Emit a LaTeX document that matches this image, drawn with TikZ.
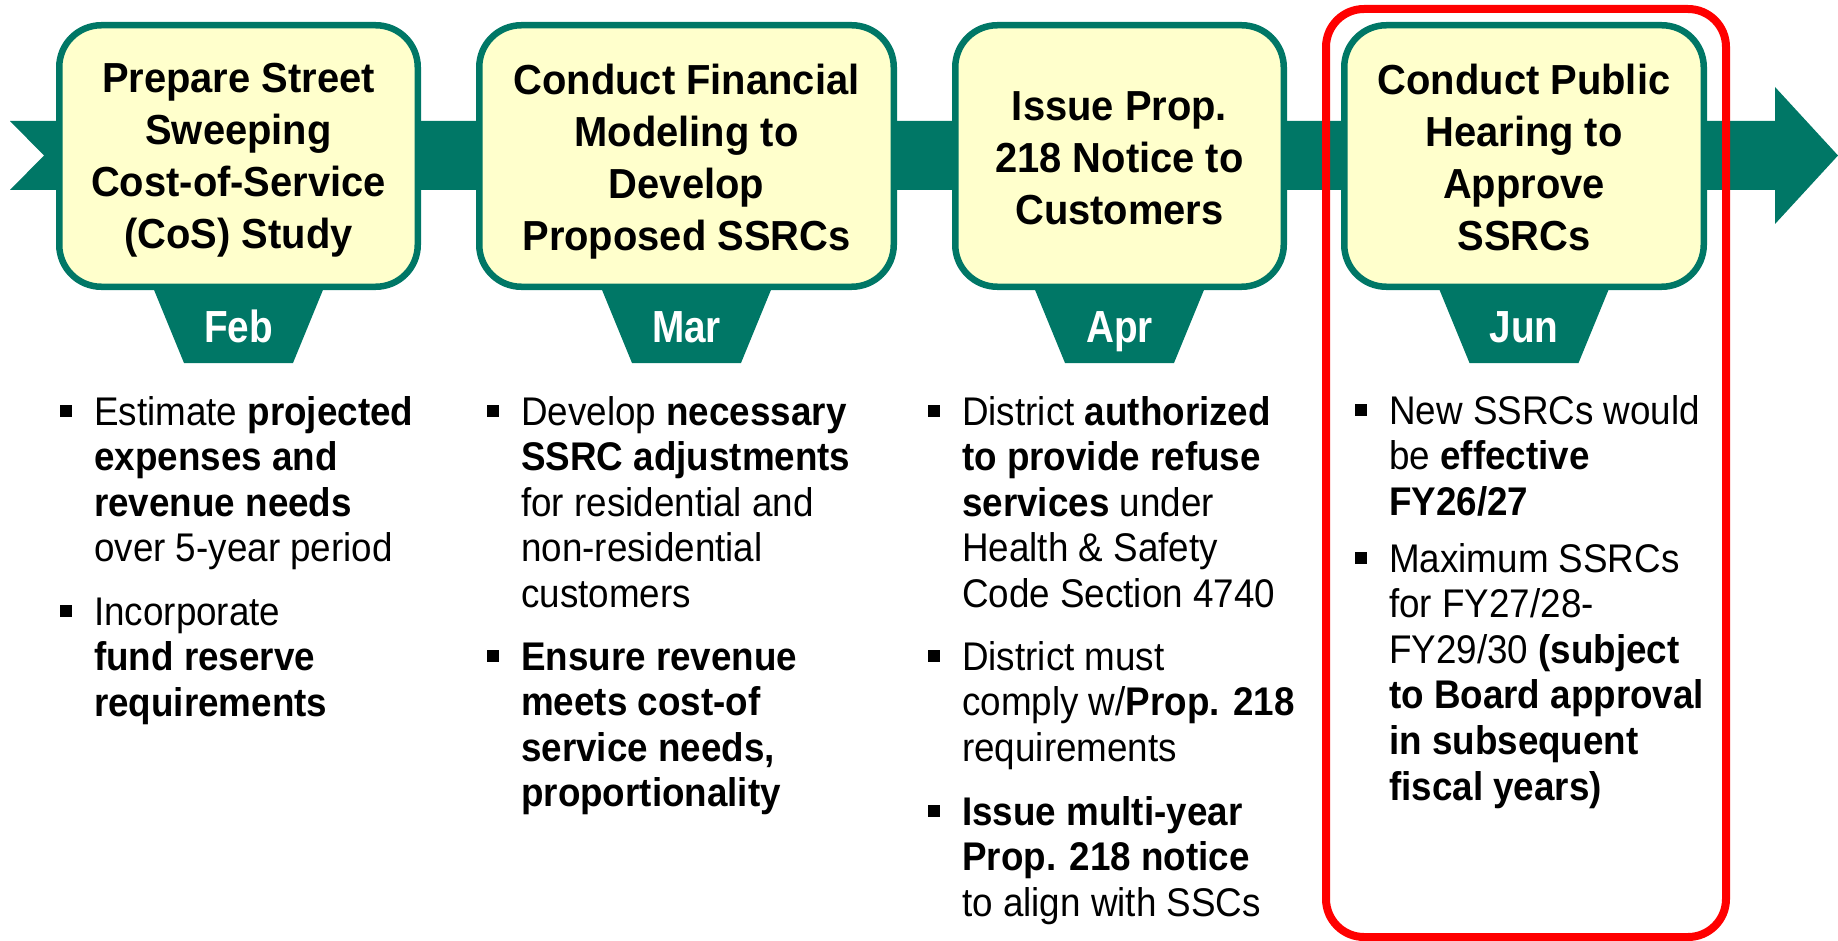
\documentclass[tikz,border=0pt]{standalone}
\usepackage{fontspec}
\setmainfont{Liberation Sans}
\newfontfamily\titlefont[FakeStretch=0.95]{Liberation Sans}
\newfontfamily\bodyfont[FakeStretch=0.92]{Liberation Sans}
\newfontfamily\monthfont[FakeStretch=0.86]{Liberation Sans}
\definecolor{tealband}{RGB}{0,119,102}
\definecolor{boxfill}{RGB}{255,255,204}
\newcommand{\bodypar}[1]{\parbox[t]{480pt}{\raggedright\bodyfont\fontsize{40}{45.6}\selectfont #1}}
\newcommand{\titlepar}[2]{\parbox[t]{#1}{\centering\titlefont\bfseries\fontsize{42}{51.7}\selectfont #2}}
\begin{document}
\begin{tikzpicture}[x=1pt,y=-1pt,
  stepbox/.style={draw=tealband, fill=boxfill, line width=6.5pt, rounded corners=42pt, minimum height=261.5pt, inner sep=0pt},
  monthlabel/.style={anchor=base, inner sep=0pt, text=white, font=\monthfont\bfseries\fontsize{45}{50}\selectfont},
  titlelabel/.style={anchor=base, inner sep=0pt},
  bodylabel/.style={anchor=base west, inner sep=0pt},
  bulletsq/.style={fill=black, minimum size=12pt, inner sep=0pt},
  redframe/.style={draw=red, line width=8pt, rounded corners=38pt, minimum width=400pt, minimum height=928pt, inner sep=0pt}]

\useasboundingbox (0,0) rectangle (1838,941);

% timeline band with arrow head
\fill[tealband] (10,121) -- (1775,121) -- (1775,87) -- (1838,155.5) -- (1775,224)
  -- (1775,190) -- (10,190) -- (44,155.5) -- cycle;

% month tabs
\foreach \cx in {238.5,686.5,1119.5,1524}{
  \fill[tealband] ({\cx-86.5},285) -- ({\cx+86.5},285) -- ({\cx+54.5},363) -- ({\cx-54.5},363) -- cycle;
}

% step boxes
\node[stepbox, minimum width=358.5pt] (boxA) at (238.5,156) {};
\node[stepbox, minimum width=414.5pt] (boxB) at (686.5,156) {};
\node[stepbox, minimum width=328.5pt] (boxC) at (1119.5,156) {};
\node[stepbox, minimum width=359.5pt] (boxD) at (1524,156) {};

% titles
\node[titlelabel] (titleA) at (238.5,93) {\titlepar{360pt}{Prepare Street\\Sweeping\\Cost-of-Service\\(CoS) Study}};
\node[titlelabel] (titleB) at (686.5,95) {\titlepar{414pt}{Conduct Financial\\Modeling to\\Develop\\Proposed SSRCs}};
\node[titlelabel] (titleC) at (1119.5,121) {\titlepar{330pt}{Issue Prop.\\218 Notice to\\Customers}};
\node[titlelabel] (titleD) at (1524,95) {\titlepar{360pt}{Conduct Public\\Hearing to\\Approve\\SSRCs}};

% months
\node[monthlabel] (monA) at (238.5,342) {Feb};
\node[monthlabel] (monB) at (686.5,342) {Mar};
\node[monthlabel] (monC) at (1119.5,342) {Apr};
\node[monthlabel] (monD) at (1524,342) {Jun};

% column 1
\node[bulletsq] (sqA1) at (65.5,411) {};
\node[bodylabel] (txtA1) at (94,425) {\bodypar{Estimate \textbf{projected}\\\textbf{expenses and}\\\textbf{revenue needs}\\over 5-year period}};
\node[bulletsq] (sqA2) at (65.5,611) {};
\node[bodylabel] (txtA2) at (94,625) {\bodypar{Incorporate\\\textbf{fund reserve}\\\textbf{requirements}}};

% column 2
\node[bulletsq] (sqB1) at (492.5,411) {};
\node[bodylabel] (txtB1) at (521,425) {\bodypar{Develop \textbf{necessary}\\\textbf{SSRC adjustments}\\for residential and\\non-residential\\customers}};
\node[bulletsq] (sqB2) at (492.5,656) {};
\node[bodylabel] (txtB2) at (521,670) {\bodypar{\textbf{Ensure revenue}\\\textbf{meets cost-of}\\\textbf{service needs,}\\\textbf{proportionality}}};

% column 3
\node[bulletsq] (sqC1) at (934,411) {};
\node[bodylabel] (txtC1) at (962,425) {\bodypar{District \textbf{authorized}\\\textbf{to provide refuse}\\\textbf{services} under\\Health \& Safety\\Code Section 4740}};
\node[bulletsq] (sqC2) at (934,656) {};
\node[bodylabel] (txtC2) at (962,670) {\bodypar{District must\\comply w/\textbf{Prop. 218}\\requirements}};
\node[bulletsq] (sqC3) at (934,811) {};
\node[bodylabel] (txtC3) at (962,825) {\bodypar{\textbf{Issue multi-year}\\\textbf{Prop. 218 notice}\\to align with SSCs}};

% column 4
\node[bulletsq] (sqD1) at (1361,410) {};
\node[bodylabel] (txtD1) at (1389,424) {\bodypar{New SSRCs would\\be \textbf{effective}\\\textbf{FY26/27}}};
\node[bulletsq] (sqD2) at (1361,558) {};
\node[bodylabel] (txtD2) at (1389,572) {\bodypar{Maximum SSRCs\\for FY27/28-\\FY29/30 \textbf{(subject}\\\textbf{to Board approval}\\\textbf{in subsequent}\\\textbf{fiscal years)}}};

% highlight frame
\node[redframe] (focus) at (1526,473) {};
\end{tikzpicture}
\end{document}
